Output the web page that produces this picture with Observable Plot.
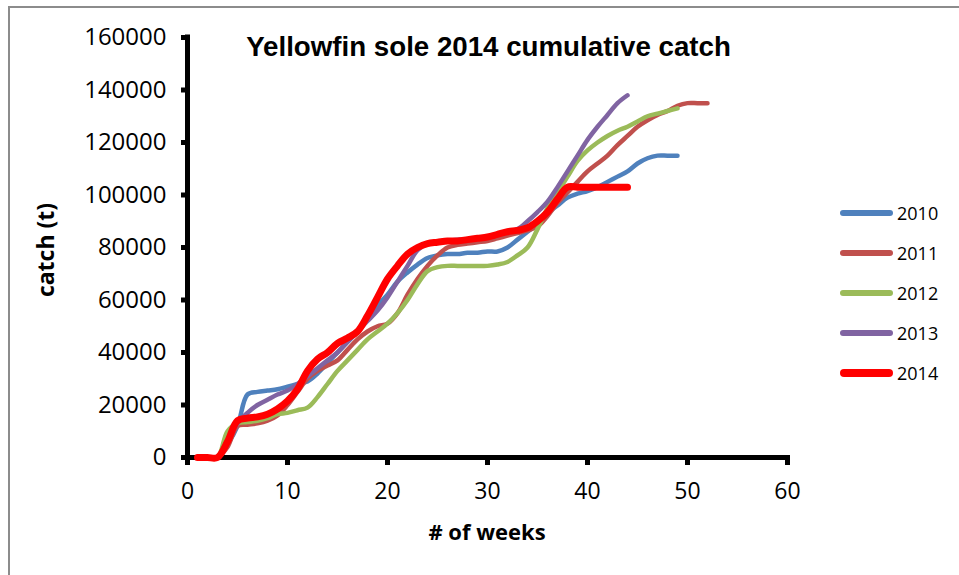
<!DOCTYPE html>
<html>
<head>
<meta charset="utf-8">
<script src="https://cdn.jsdelivr.net/npm/d3@7"></script>
<script src="https://cdn.jsdelivr.net/npm/@observablehq/plot@0.6"></script>
<style>
  html, body { margin: 0; padding: 0; background: #fff; }
  #wrap { position: relative; width: 959px; height: 575px; overflow: hidden; font-family: "Open Sans", sans-serif; }
  #frame { position: absolute; left: 8px; top: 6px; width: 1000px; height: 1000px; border-left: 2px solid #8c8c8c; border-top: 2px solid #8c8c8c; }
  #title { position: absolute; left: 0; width: 977px; text-align: center; top: 31px; font-family: "Liberation Sans", sans-serif; font-weight: bold; font-size: 27.7px; color: #000; white-space: nowrap; }
  #xlabel { position: absolute; left: 387px; width: 200px; text-align: center; top: 516px; font-weight: bold; font-size: 22px; font-family: "Open Sans", sans-serif; }
  #ylabel { position: absolute; left: 45px; top: 250px; transform: translate(-50%, -50%) rotate(-90deg); font-weight: bold; font-size: 23px; white-space: nowrap; }
  #legend { position: absolute; left: 840px; top: 193px; }
  .item { display: flex; align-items: center; height: 40px; font-size: 18px; }
  .sw { width: 53px; border-radius: 4px; margin-right: 4px; }
  svg { position: absolute; left: 0; top: 0; }
</style>
</head>
<body>
<div id="wrap">
  <div id="frame"></div>
  <div id="chart"></div>
  <div id="title">Yellowfin sole 2014 cumulative catch</div>
  <div id="xlabel"># of weeks</div>
  <div id="ylabel">catch (t)</div>
  <div id="legend"></div>
</div>
<script>
// cumulative catch in thousands of tonnes, by week (week 1 onward)
const years = ["2010", "2011", "2012", "2013", "2014"];
const colors = ["#4F81BD", "#C0504D", "#9BBB59", "#8064A2", "#FF0000"];
const catch2010 = [0,0,0,5,12,24,25,25.5,26,27, 28,29,32,36,40,44,48,53,58,62, 67,70.5,73.5,76,77,77.5,77.5,78,78,78.5, 78.5,80,83,86,89,93,96,99,100.5,101.5, 103,105,107,109,112,114,115,115,115];
const catch2011 = [0,0,0,4,12,12.5,13,14,16,20, 25,30,33,35,37,41,45,48,50,51, 55,62,68,73,77,80,81,81.5,82,82.5, 83.5,84.5,85.5,86.5,88,92,97,101,105,109, 112,115,119,122.5,126,128.5,130.5,132,134,135, 135,135];
const catch2012 = [0,0,0,10,13,13.5,14,15,16.5,17, 18,19,23,28,33,37,41,45,48,51, 55,60,66,71,72.5,73,73,73,73,73, 73.5,74.5,77,80,87,95,101,107,113,117, 120,122.5,124.5,126,128,130,131,132,133];
const catch2013 = [0,0,0,6,13,17,20,22,24,25.5, 28,31,34,37,40,44,48,52,56,61, 67,73,79,81.5,82,82.5,83,83,83.5,84, 85,86,87,90,93.5,97.5,103,109,115,121, 126,130.5,135,138];
const catch2014 = [0,0,0,6,14,15,15.5,16.5,18.5,21.5, 26,33,37.5,40,43.5,45.5,48,54,61,68, 73,77.5,80,81.5,82,82.5,82.5,83,83.5,84, 85,86,86.5,87.5,90,93.5,98.5,103,103,103, 103,103,103,103];
const xTicks = [0, 10, 20, 30, 40, 50, 60];
const yTicks = [0, 20000, 40000, 60000, 80000, 100000, 120000, 140000, 160000];

const series = [catch2010, catch2011, catch2012, catch2013, catch2014];
const rows = [];
series.forEach((arr, i) => arr.forEach((v, j) => rows.push({year: years[i], week: j + 1, catch: v * 1000})));
const past = rows.filter(d => d.year !== "2014");
const cur = rows.filter(d => d.year === "2014");

const chart = Plot.plot({
  width: 959,
  height: 575,
  marginLeft: 187,
  marginRight: 172,
  marginTop: 37,
  marginBottom: 118,
  style: {fontFamily: "Open Sans, sans-serif", fontSize: "23px", color: "#000", background: "transparent", overflow: "visible"},
  x: {domain: [0, 60], ticks: xTicks},
  y: {domain: [0, 160000], ticks: yTicks},
  color: {domain: years, range: colors},
  marks: [
    Plot.axisX({ticks: xTicks, tickSize: 8, strokeWidth: 5, tickPadding: 17, label: null, fontSize: 23, tickFormat: d3.format("d")}),
    Plot.axisY({ticks: yTicks, tickSize: 6, strokeWidth: 5, tickPadding: 15, label: null, fontSize: 24, tickFormat: d3.format("d")}),
    Plot.ruleY([0], {x1: -0.2, x2: 60.3, stroke: "#000", strokeWidth: 5}),
    Plot.ruleX([0], {y1: 0, y2: 161000, stroke: "#000", strokeWidth: 5}),
    Plot.line(past, {x: "week", y: "catch", z: "year", stroke: "year", strokeWidth: 4.5, curve: "catmull-rom", strokeLinecap: "round", strokeLinejoin: "round"}),
    Plot.line(cur, {x: "week", y: "catch", z: "year", stroke: "year", strokeWidth: 7, curve: "catmull-rom", strokeLinecap: "round", strokeLinejoin: "round"})
  ]
});
document.getElementById("chart").appendChild(chart);

const legend = d3.select("#legend");
years.forEach((y, i) => {
  const it = legend.append("div").attr("class", "item");
  it.append("div").attr("class", "sw").style("height", (y === "2014" ? 8 : 6) + "px").style("background", colors[i]);
  it.append("span").text(y);
});
</script>
</body>
</html>
